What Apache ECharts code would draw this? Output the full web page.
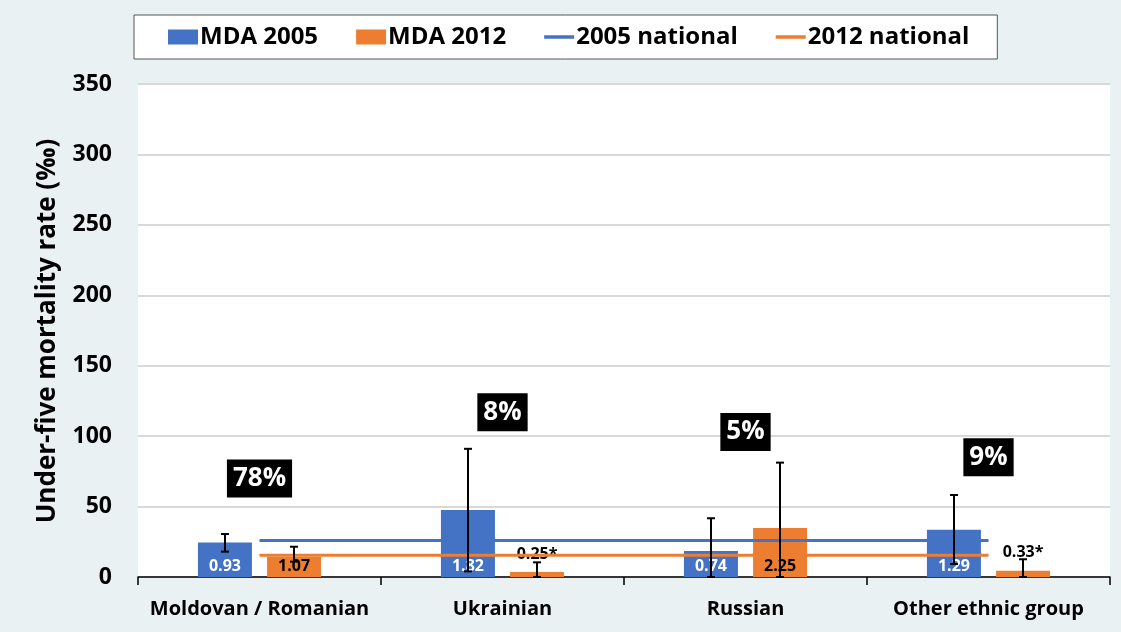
<!DOCTYPE html>
<html>
<head>
<meta charset="utf-8">
<script src="https://cdn.jsdelivr.net/npm/echarts@6/dist/echarts.min.js"></script>
<style>
  html, body { margin: 0; padding: 0; background: #e9f1f3; }
  #chart-container { width: 1121px; height: 632px; }
</style>
</head>
<body>
<div id="chart-container"></div>
<script>
// ethnic groups
var categorias = ['Moldovan / Romanian', 'Ukrainian', 'Russian', 'Other ethnic group'];

// under-five mortality (per mille)
var mda2005 = [24.5, 47.6, 18.5, 33.6];
var mda2012 = [14.4, 3.5, 34.8, 4.5];
var erro2005 = [[18, 30.5], [4, 91], [0, 41.7], [9.2, 58.2]];
var erro2012 = [[10.9, 21.5], [0, 10.4], [0, 81.2], [0, 12.6]];
var nacional2005 = [26, 26, 26, 26];
var nacional2012 = [15.4, 15.4, 15.4, 15.4];

// texts over bars
var rotulos2005 = ['0.93', '1.82', '0.74', '1.29'];
var rotulos2012 = ['1.07', '0.25*', '2.25', '0.33*'];

// population share boxes
var percentuais = ['78%', '8%', '5%', '9%'];
var alturaPercentual = [70, 117, 103, 85];

var azul = '#4472c4';
var laranja = '#ed7d31';
var fonte = '"Open Sans", sans-serif';
var iconeLinha = 'path://M0,0 L30,0 L30,3.5 L0,3.5 Z';

var dom = document.getElementById('chart-container');
var myChart = echarts.init(dom, null, { renderer: 'canvas' });

// draws an error bar shifted left or right of the category centre
function barraErro(lado) {
    return function (params, api) {
        var faixa = api.size([1, 0])[0];
        var desloc = lado * faixa * 0.142;
        var alto = api.coord([api.value(0), api.value(2)]);
        var baixo = api.coord([api.value(0), api.value(1)]);
        var x = alto[0] + desloc;
        var estilo = { stroke: '#000', lineWidth: 2 };
        return {
            type: 'group',
            children: [
                { type: 'line', shape: { x1: x, y1: alto[1], x2: x, y2: baixo[1] }, style: estilo },
                { type: 'line', shape: { x1: x - 4, y1: alto[1], x2: x + 4, y2: alto[1] }, style: estilo },
                { type: 'line', shape: { x1: x - 4, y1: baixo[1], x2: x + 4, y2: baixo[1] }, style: estilo }
            ]
        };
    };
}

var dadosRotulo = function (valores, rotulos, cor) {
    return valores.map(function (v, i) {
        var topo = rotulos[i].indexOf('*') >= 0;
        return {
            value: v,
            label: {
                show: true,
                formatter: rotulos[i],
                position: topo ? 'top' : 'insideBottom',
                distance: topo ? 10 : 3,
                color: topo ? '#000' : cor,
                fontSize: 16,
                fontWeight: 'bold',
                fontFamily: fonte
            }
        };
    });
};

var option = {
    backgroundColor: '#e9f1f3',
    textStyle: { fontFamily: fonte },
    graphic: [{
        type: 'text',
        x: 48,
        y: 331,
        rotation: Math.PI / 2,
        style: {
            text: 'Under-five mortality rate (‰)',
            fontSize: 26,
            fontWeight: 'bold',
            fontFamily: fonte,
            fill: '#000',
            align: 'center',
            verticalAlign: 'middle'
        }
    }],
    legend: {
        left: 134,
        top: 15,
        padding: [10, 28, 10, 34],
        itemGap: 38,
        itemWidth: 30,
        itemHeight: 15,
        backgroundColor: '#fff',
        borderColor: '#555',
        borderWidth: 1,
        textStyle: { fontSize: 24, fontWeight: 'bold', color: '#000', fontFamily: fonte, padding: [0, 0, 0, -3] },
        data: [
            { name: 'MDA 2005', icon: 'rect' },
            { name: 'MDA 2012', icon: 'rect' },
            { name: '2005 national', icon: iconeLinha },
            { name: '2012 national', icon: iconeLinha }
        ]
    },
    grid: {
        left: 138,
        right: 11,
        top: 84,
        bottom: 55,
        show: true,
        backgroundColor: '#fff',
        borderWidth: 0
    },
    xAxis: {
        type: 'category',
        data: categorias,
        axisLine: { lineStyle: { color: '#000', width: 1.5 } },
        axisTick: { show: true, length: 8, lineStyle: { color: '#000', width: 1.5 } },
        axisLabel: { interval: 0, fontSize: 20, fontWeight: 'bold', color: '#000', margin: 22, fontFamily: fonte }
    },
    yAxis: {
        type: 'value',
        min: 0,
        max: 350,
        interval: 50,
        axisLine: { show: false },
        axisTick: { show: false },
        axisLabel: { fontSize: 23, fontWeight: 'bold', color: '#000', margin: 26, fontFamily: fonte },
        splitLine: { lineStyle: { color: '#d9d9d9', width: 2 } }
    },
    series: [
        {
            name: 'MDA 2005',
            type: 'bar',
            barWidth: 54,
            barGap: '28%',
            itemStyle: { color: azul },
            data: dadosRotulo(mda2005, rotulos2005, '#fff'),
            z: 2
        },
        {
            name: 'MDA 2012',
            type: 'bar',
            barWidth: 54,
            barGap: '28%',
            itemStyle: { color: laranja },
            data: dadosRotulo(mda2012, rotulos2012, '#000'),
            z: 2
        },
        {
            name: '2005 national',
            type: 'line',
            symbol: 'none',
            lineStyle: { color: azul, width: 3 },
            itemStyle: { color: azul },
            data: nacional2005,
            z: 3
        },
        {
            name: '2012 national',
            type: 'line',
            symbol: 'none',
            lineStyle: { color: laranja, width: 3 },
            itemStyle: { color: laranja },
            data: nacional2012,
            z: 3
        },
        {
            type: 'custom',
            renderItem: barraErro(-1),
            data: erro2005.map(function (e, i) { return [i, e[0], e[1]]; }),
            z: 4,
            silent: true
        },
        {
            type: 'custom',
            renderItem: barraErro(1),
            data: erro2012.map(function (e, i) { return [i, e[0], e[1]]; }),
            z: 4,
            silent: true
        },
        {
            type: 'scatter',
            symbolSize: 1,
            itemStyle: { color: 'rgba(0,0,0,0)', opacity: 1 },
            silent: true,
            label: {
                show: true,
                position: 'inside',
                formatter: function (p) { return percentuais[p.dataIndex]; },
                backgroundColor: '#000',
                color: '#fff',
                fontSize: 26,
                fontWeight: 'bold',
                fontFamily: fonte,
                padding: [7, 6, 5, 6]
            },
            data: alturaPercentual.map(function (v, i) { return [i, v]; }),
            z: 5
        }
    ]
};

if (option && typeof option === 'object') {
    myChart.setOption(option);
}

window.addEventListener('resize', myChart.resize);
</script>
</body>
</html>
